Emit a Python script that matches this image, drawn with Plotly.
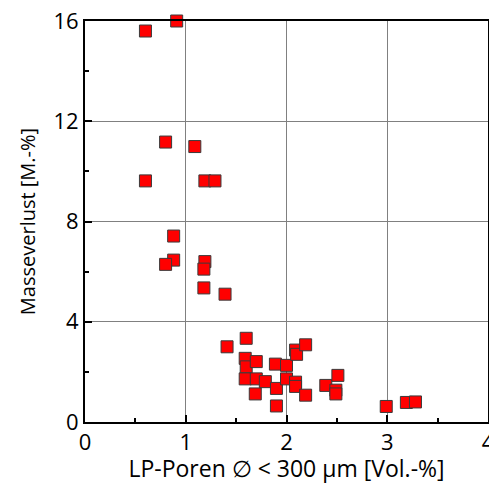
import plotly.graph_objects as go

lp_poren = [0.60, 0.91, 0.80, 1.09, 0.60, 1.19, 1.29,
            0.88, 0.88, 0.80, 1.19, 1.18, 1.18, 1.39,
            1.41, 1.60, 1.59, 1.60, 1.59, 1.70, 1.70, 1.69, 1.79,
            1.89, 1.90, 1.90, 2.00, 2.00, 2.09, 2.10, 2.19,
            2.09, 2.09, 2.19, 2.39, 2.51, 2.49, 2.49,
            2.99, 3.19, 3.28]
masseverlust = [15.6, 16.0, 11.17, 10.99, 9.62, 9.62, 9.62,
                7.42, 6.46, 6.29, 6.40, 6.10, 5.35, 5.10,
                3.0, 3.34, 2.54, 2.20, 1.72, 2.41, 1.72, 1.12, 1.61,
                2.31, 1.34, 0.64, 2.26, 1.72, 2.87, 2.70, 3.08,
                1.59, 1.42, 1.07, 1.46, 1.86, 1.27, 1.12,
                0.62, 0.78, 0.80]

x_ticks = [0, 1, 2, 3, 4]
y_ticks = [0, 4, 8, 12, 16]

fig = go.Figure()
fig.add_trace(go.Scatter(
    x=lp_poren, y=masseverlust, mode="markers",
    marker=dict(symbol="square", size=12, color="#ff0000",
                line=dict(color="#3a3a3a", width=1)),
    cliponaxis=False, showlegend=False,
))

axis_common = dict(
    showline=True, linecolor="black", linewidth=2, mirror=True,
    ticks="inside", ticklen=7, tickwidth=2, tickcolor="black",
    showgrid=True, gridcolor="#808080", gridwidth=1,
    zeroline=False, automargin=False, ticklabeloverflow="allow",
    tickfont=dict(size=22, color="black", family="Open Sans"),
)

fig.update_xaxes(range=[0, 4], tickvals=x_ticks, ticktext=[str(v) for v in x_ticks],
                 minor=dict(ticks="inside", ticklen=4, tickwidth=2, tickcolor="black",
                            dtick=0.5, tick0=0, showgrid=False),
                 title=dict(text="LP-Poren \u2205 < 300 \u03bcm [Vol.-%]", standoff=2,
                            font=dict(size=23, color="black", family="Open Sans")),
                 **axis_common)
fig.update_yaxes(range=[0, 16], tickvals=y_ticks, ticktext=[str(v) for v in y_ticks],
                 minor=dict(ticks="inside", ticklen=4, tickwidth=2, tickcolor="black",
                            dtick=2, tick0=0, showgrid=False),
                 title=dict(text="Masseverlust [M.-%]", standoff=12,
                            font=dict(size=20, color="black", family="Open Sans")),
                 **axis_common)

fig.update_layout(
    width=489, height=476,
    margin=dict(l=77, r=9, t=13, b=62),
    plot_bgcolor="white", paper_bgcolor="white",
)

fig.write_html("out.html")
